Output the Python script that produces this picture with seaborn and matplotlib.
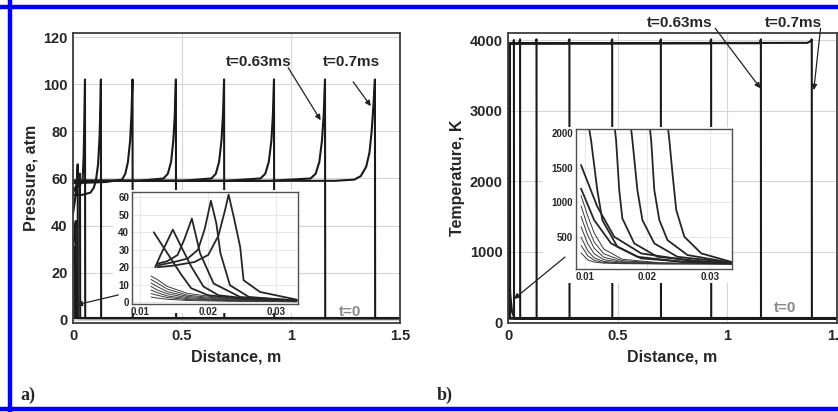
import pandas as pd
import matplotlib.pyplot as plt
import seaborn as sns
from matplotlib.lines import Line2D
from matplotlib.patches import Rectangle

# -----------------------------
# PANEL A: pressure profiles (distance in m, pressure in atm)
# -----------------------------
pressure_x = [
    [0.0, 1.5],  # t=0
    [0.0, 0.003, 0.006, 0.007, 0.008, 1.5],
    [0.0, 0.006, 0.011, 0.013, 0.014, 1.5],
    [0.0, 0.008, 0.015, 0.019, 0.0215, 0.0225, 1.5],
    [0.0, 0.015, 0.025, 0.030, 0.032, 0.033, 1.5],
    [0.0, 0.030, 0.044, 0.049, 0.052, 0.055, 0.056, 1.5],
    [0.0, 0.040, 0.080, 0.095, 0.105, 0.115, 0.122, 0.126, 0.128, 0.129, 1.5],
    [0.0, 0.150, 0.225, 0.240, 0.252, 0.262, 0.268, 0.273, 0.274, 1.5],
    [0.0, 0.300, 0.415, 0.435, 0.450, 0.460, 0.467, 0.472, 0.473, 1.5],
    [0.0, 0.500, 0.635, 0.655, 0.670, 0.681, 0.688, 0.693, 0.694, 1.5],
    [0.0, 0.700, 0.860, 0.882, 0.898, 0.910, 0.917, 0.922, 0.923, 1.5],
    [0.0, 0.900, 1.090, 1.113, 1.130, 1.142, 1.150, 1.156, 1.157, 1.5],
    [0.0, 1.200, 1.290, 1.320, 1.345, 1.360, 1.370, 1.378, 1.385, 1.386, 1.5],
]
pressure_p = [
    [0.8, 0.8],
    [22, 26, 30, 31, 0.8, 0.8],
    [30, 36, 41, 42, 0.8, 0.8],
    [45, 50, 56, 61, 66, 0.8, 0.8],
    [54, 57, 58, 60, 62, 0.8, 0.8],
    [55, 57, 59, 70, 85, 102, 0.8, 0.8],
    [53, 53, 54, 56, 59, 66, 78, 92, 102, 0.8, 0.8],
    [58, 58.5, 59.5, 62, 67, 76, 87, 102, 0.8, 0.8],
    [59, 59, 60, 62, 67, 76, 87, 102, 0.8, 0.8],
    [59, 59, 60, 62, 67, 76, 87, 102, 0.8, 0.8],
    [59, 59, 60, 62, 67, 76, 87, 102, 0.8, 0.8],
    [59, 59, 60, 62, 67, 76, 87, 102, 0.8, 0.8],
    [59, 59, 59.5, 61, 65, 71, 80, 91, 102, 0.8, 0.8],
]

# inset a: early pressure peaks
inset_p_x = [
    [0.0120, 0.0140, 0.0160, 0.0175, 0.0200, 0.0250, 0.0330],
    [0.0122, 0.0130, 0.0140, 0.0148, 0.0160, 0.0175, 0.0193, 0.0215, 0.0260, 0.0330],
    [0.0125, 0.0140, 0.0155, 0.0165, 0.0176, 0.0188, 0.0208, 0.0247, 0.0330],
    [0.0125, 0.0150, 0.0170, 0.0185, 0.0195, 0.0204, 0.0212, 0.0218, 0.0232, 0.0260, 0.0330],
    [0.0125, 0.0150, 0.0180, 0.0200, 0.0215, 0.0225, 0.0230, 0.0238, 0.0247, 0.0252, 0.0276, 0.0330],
]
inset_p_y = [
    [40, 28, 16, 8, 4, 2, 1],
    [20, 27, 35, 41.5, 32, 20.5, 9, 4, 2, 1],
    [22, 23.5, 27, 36, 47.8, 28, 10.7, 3, 1],
    [21, 23, 25, 30, 42, 58, 45, 28, 9.7, 3, 1],
    [20, 21, 23, 27, 38, 53, 61.5, 48, 31.6, 12.6, 5.9, 1.5],
]
fan_p_x = [0.0116, 0.0125, 0.0140, 0.0170, 0.0230, 0.0330]
fan_p_y = [
    [15, 13, 9, 5, 2, 0.8],
    [13, 11, 7.5, 4, 1.8, 0.7],
    [11, 9, 6, 3.3, 1.5, 0.6],
    [9, 7, 4.8, 2.6, 1.2, 0.5],
    [7, 5.5, 3.6, 2, 1, 0.4],
    [5, 4, 2.7, 1.5, 0.8, 0.3],
    [3, 2.4, 1.7, 1, 0.6, 0.3],
]

# -----------------------------
# PANEL B: temperature profiles (distance in m, temperature in K)
# -----------------------------
temp_x = [
    [0.0, 1.5],  # t=0
    [0.0, 0.004, 0.010, 0.018, 0.030, 1.5],
    [0.0, 0.003, 0.004, 0.0045, 1.5],
    [0.0, 0.008, 0.009, 0.0095, 1.5],
    [0.0, 0.024, 0.027, 0.0275, 1.5],
    [0.0, 0.050, 0.055, 0.0555, 1.5],
    [0.0, 0.125, 0.130, 0.1305, 1.5],
    [0.0, 0.275, 0.280, 0.2805, 1.5],
    [0.0, 0.470, 0.475, 0.4755, 1.5],
    [0.0, 0.692, 0.697, 0.6975, 1.5],
    [0.0, 0.921, 0.926, 0.9265, 1.5],
    [0.0, 1.148, 1.153, 1.1535, 1.5],
    [0.0, 1.365, 1.380, 1.385, 1.3855, 1.5],
]
temp_k = [
    [50, 50],
    [1500, 900, 400, 150, 50, 50],
    [3900, 3930, 3950, 50, 50],
    [3930, 3940, 3960, 50, 50],
    [3950, 3955, 4000, 50, 50],
    [3955, 3955, 4010, 50, 50],
    [3955, 3955, 4010, 50, 50],
    [3955, 3955, 4010, 50, 50],
    [3955, 3955, 4010, 50, 50],
    [3955, 3955, 4010, 50, 50],
    [3955, 3955, 4010, 50, 50],
    [3955, 3955, 4010, 50, 50],
    [3955, 3960, 3985, 4010, 50, 50],
]

# inset b: early temperature profiles
inset_t_x = [
    [0.0094, 0.0120, 0.0147, 0.0190, 0.0280, 0.0335],
    [0.0094, 0.0115, 0.0142, 0.0184, 0.0254, 0.0335],
    [0.0107, 0.0110, 0.0120, 0.0128, 0.0152, 0.0190, 0.0280, 0.0335],
    [0.0148, 0.0150, 0.0155, 0.0160, 0.0179, 0.0216, 0.0312, 0.0335],
    [0.0174, 0.0176, 0.0184, 0.0192, 0.0211, 0.0248, 0.0335],
    [0.0204, 0.0206, 0.0211, 0.0219, 0.0232, 0.0264, 0.0335],
    [0.0233, 0.0235, 0.0240, 0.0246, 0.0259, 0.0286, 0.0335],
]
inset_t_y = [
    [1540, 940, 505, 265, 145, 125],
    [1200, 746, 409, 216, 145, 125],
    [2060, 1900, 1178, 746, 361, 193, 130, 120],
    [2060, 1900, 1178, 770, 409, 216, 130, 125],
    [2060, 1900, 1178, 746, 409, 216, 130],
    [2060, 1900, 1178, 746, 457, 241, 130],
    [2060, 1900, 1419, 890, 505, 265, 140],
]
fan_t_x = [0.0094, 0.0105, 0.0115, 0.0130, 0.0160, 0.0220, 0.0335]
fan_t_y = [
    [1100, 800, 560, 330, 180, 130, 115],
    [950, 650, 430, 260, 160, 125, 115],
    [800, 520, 340, 210, 145, 120, 115],
    [650, 400, 260, 175, 135, 118, 115],
    [500, 300, 200, 150, 125, 117, 115],
    [380, 230, 165, 135, 120, 116, 115],
    [270, 170, 140, 125, 117, 115, 115],
]

# ticks
dist_ticks = [0, 0.5, 1, 1.5]
dist_labels = ['0', '0.5', '1', '1.5']
p_ticks = [0, 20, 40, 60, 80, 100, 120]
t_ticks = [0, 1000, 2000, 3000, 4000]
inset_x_ticks = [0.01, 0.02, 0.03]
inset_p_ticks = [0, 10, 20, 30, 40, 50, 60]
inset_t_ticks = [500, 1000, 1500, 2000]


def to_long(xs, ys):
    rows = []
    for i, (cx, cy) in enumerate(zip(xs, ys)):
        for a, b in zip(cx, cy):
            rows.append((i, a, b))
    return pd.DataFrame(rows, columns=['curve', 'x', 'y'])


def draw(ax, xs, ys, color, lw):
    df = to_long(xs, ys)
    sns.lineplot(data=df, x='x', y='y', units='curve', estimator=None,
                 sort=False, color=color, lw=lw, ax=ax, legend=False)


sns.set_style('white')
plt.rcParams['font.family'] = ['Liberation Sans', 'DejaVu Sans']
plt.rcParams['font.weight'] = 'bold'

W, H = 838, 412
fig = plt.figure(figsize=(W / 100, H / 100), dpi=100)
ax_a = fig.add_axes([73 / W, 1 - 323 / H, 327 / W, 290 / H])
ax_b = fig.add_axes([508 / W, 1 - 323 / H, 329 / W, 290 / H])
ins_a = fig.add_axes([132 / W, 1 - 304 / H, 166 / W, 112 / H])
ins_b = fig.add_axes([576 / W, 1 - 269 / H, 156 / W, 140 / H])
ins_a.set_zorder(3)
ins_b.set_zorder(3)

# white patches behind the insets (also hide curves under the inset labels)
fig.add_artist(Rectangle((113 / W, 1 - 313 / H), 186 / W, 123 / H,
                         transform=fig.transFigure, facecolor='white',
                         edgecolor='none', zorder=2))
fig.add_artist(Rectangle((543 / W, 1 - 283 / H), 190 / W, 156 / H,
                         transform=fig.transFigure, facecolor='white',
                         edgecolor='none', zorder=2))

draw(ax_a, pressure_x, pressure_p, '#1a1a1a', 1.5)
draw(ax_b, temp_x, temp_k, '#1a1a1a', 1.5)

draw(ins_a, [fan_p_x] * len(fan_p_y), fan_p_y, '#3a3a3a', 0.7)
draw(ins_a, inset_p_x, inset_p_y, '#262626', 1.3)
draw(ins_b, [fan_t_x] * len(fan_t_y), fan_t_y, '#3a3a3a', 0.7)
draw(ins_b, inset_t_x, inset_t_y, '#262626', 1.3)

# main axes styling
for ax in (ax_a, ax_b):
    ax.set_xlim(0, 1.5)
    ax.set_xticks(dist_ticks, dist_labels)
    ax.grid(True, color='#d6d6d6', lw=0.8)
    ax.set_axisbelow(True)
    ax.tick_params(length=0, labelsize=10.5, pad=4)
    ax.set_xlabel('Distance, m', fontsize=11.5, fontweight='bold', labelpad=5)
    for s in ax.spines.values():
        s.set_color('#3c3c3c')
        s.set_linewidth(1.3)

ax_a.set_ylim(-1.3, 121.7)
ax_a.set_yticks(p_ticks)
ax_a.set_ylabel('Pressure, atm', fontsize=11.5, fontweight='bold', labelpad=3)

ax_b.set_ylim(-14, 4100)
ax_b.set_yticks(t_ticks)
ax_b.set_ylabel('Temperature, K', fontsize=11.5, fontweight='bold', labelpad=3)

# inset styling
for ax in (ins_a, ins_b):
    ax.set_facecolor('white')
    ax.set_xticks(inset_x_ticks, ['0.01', '0.02', '0.03'])
    ax.grid(True, color='#e4e4e4', lw=0.6)
    ax.set_axisbelow(True)
    ax.tick_params(length=0, labelsize=7, pad=2)
    ax.set_xlabel('')
    ax.set_ylabel('')
    for s in ax.spines.values():
        s.set_color('#505050')
        s.set_linewidth(1.0)

ins_a.set_xlim(0.0088, 0.0332)
ins_a.set_ylim(-1, 63)
ins_a.set_yticks(inset_p_ticks)
ins_b.set_xlim(0.0086, 0.0335)
ins_b.set_ylim(40, 2060)
ins_b.set_yticks(inset_t_ticks)

# annotations
arrow = dict(arrowstyle='-|>', color='#222222', lw=0.9, mutation_scale=8,
             shrinkA=0, shrinkB=0)
ax_a.text(0.85, 109.5, 't=0.63ms', ha='center', va='center', fontsize=11,
          fontweight='bold')
ax_a.text(1.278, 109.5, 't=0.7ms', ha='center', va='center', fontsize=11,
          fontweight='bold')
ax_a.annotate('', xy=(1.136, 84.7), xytext=(0.987, 107), arrowprops=arrow)
ax_a.annotate('', xy=(1.366, 90.7), xytext=(1.285, 101), arrowprops=arrow)
# arrows pointing from the insets to the early profiles, drawn above the white patch
ins_a.annotate('', xy=(0.017, 6.4), xycoords=ax_a.transData,
               xytext=(0.208, 10.6), textcoords=ax_a.transData,
               arrowprops=arrow, annotation_clip=False)
ax_a.text(1.27, 3.2, 't=0', ha='center', va='center', fontsize=11,
          color='#8a8a8a')

ax_b.text(0.785, 4237, 't=0.63ms', ha='center', va='center', fontsize=11,
          fontweight='bold')
ax_b.text(1.30, 4237, 't=0.7ms', ha='center', va='center', fontsize=11,
          fontweight='bold')
ax_b.annotate('', xy=(1.151, 3315), xytext=(0.945, 4166), arrowprops=arrow,
              annotation_clip=False)
ax_b.annotate('', xy=(1.394, 3290), xytext=(1.425, 4166), arrowprops=arrow,
              annotation_clip=False)
ins_b.annotate('', xy=(0.027, 326), xycoords=ax_b.transData,
               xytext=(0.26, 922), textcoords=ax_b.transData,
               arrowprops=arrow, annotation_clip=False)
ax_b.text(1.265, 200, 't=0', ha='center', va='center', fontsize=11,
          color='#8a8a8a')

fig.text(28 / W, 1 - 395 / H, 'a)', family='Liberation Serif',
         fontweight='bold', fontsize=13, ha='center', va='center')
fig.text(445 / W, 1 - 395 / H, 'b)', family='Liberation Serif',
         fontweight='bold', fontsize=13, ha='center', va='center')

# blue frame
blue = '#0000ff'
for xs, ys in [([0, 1], [1 - 7 / H, 1 - 7 / H]),
               ([0, 1], [1 - 409 / H, 1 - 409 / H]),
               ([10 / W, 10 / W], [0, 1])]:
    fig.add_artist(Line2D(xs, ys, transform=fig.transFigure, color=blue,
                          lw=3.2, zorder=5))

fig.savefig('out.png', dpi=100)
plt.close(fig)
